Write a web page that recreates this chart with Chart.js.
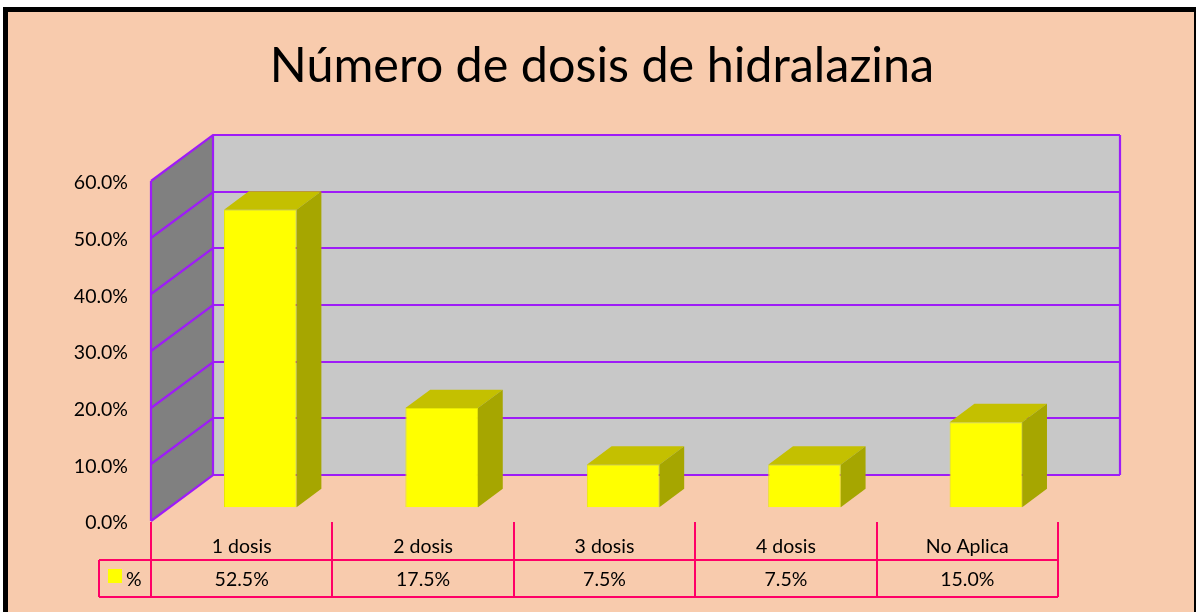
<!DOCTYPE html>
<html>
<head>
<meta charset="utf-8">
<script src="https://cdn.jsdelivr.net/npm/chart.js@4/dist/chart.umd.min.js"></script>
<style>
  html, body { margin: 0; padding: 0; background: #fff; }
  canvas { display: block; }
</style>
</head>
<body>
<canvas id="myChart" width="1196" height="612"></canvas>
<script>
const chartTitle = "Número de dosis de hidralazina";
const categories = ["1 dosis", "2 dosis", "3 dosis", "4 dosis", "No Aplica"];
const seriesName = "%";
const values = [52.5, 17.5, 7.5, 7.5, 15.0];
const yTicks = [0, 10, 20, 30, 40, 50, 60];

const FONT = "Lato, 'Open Sans', sans-serif";
const PEACH = "#F8CBAD";
const GRID = "#9E1CF7";
const TABLE = "#FF0066";
// depth of the 3d box (back wall offset from the front plane)
const DEPTH_X = 62, DEPTH_Y = -46;

const fake3d = {
  id: "fake3d",
  beforeDraw(chart) {
    const c = chart.ctx;
    const x = chart.scales.x, y = chart.scales.y;
    const L = chart.chartArea.left, R = chart.chartArea.right;
    const py = v => Math.round(y.getPixelForValue(v));
    c.save();
    c.fillStyle = "#fff";
    c.fillRect(0, 0, chart.width, chart.height);
    c.fillStyle = PEACH;
    c.fillRect(3, 7, chart.width - 3, chart.height - 7);
    // outer frame
    c.strokeStyle = "#000";
    c.lineWidth = 5;
    c.beginPath();
    c.moveTo(5.5, chart.height);
    c.lineTo(5.5, 9.5);
    c.lineTo(chart.width, 9.5);
    c.stroke();
    c.lineWidth = 2;
    c.beginPath();
    c.moveTo(1195, 9);
    c.lineTo(1195, chart.height);
    c.stroke();

    // title
    c.fillStyle = "#000";
    c.font = "48.5px " + FONT;
    c.textAlign = "center";
    c.textBaseline = "alphabetic";
    c.fillText(chartTitle, 602, 82);

    const top = py(yTicks[yTicks.length - 1]);
    const bot = py(0);
    // back wall
    c.fillStyle = "#C8C8C8";
    c.fillRect(L + DEPTH_X, top + DEPTH_Y, R - L, bot - top);
    // side wall
    c.fillStyle = "#808080";
    c.beginPath();
    c.moveTo(L, top);
    c.lineTo(L + DEPTH_X, top + DEPTH_Y);
    c.lineTo(L + DEPTH_X, bot + DEPTH_Y);
    c.lineTo(L, bot);
    c.closePath();
    c.fill();

    c.strokeStyle = GRID;
    c.lineWidth = 2.2;
    yTicks.forEach(v => {
      const p = py(v);
      c.beginPath();
      c.moveTo(L, p);
      c.lineTo(L + DEPTH_X, p + DEPTH_Y);
      c.lineTo(R + DEPTH_X, p + DEPTH_Y);
      c.stroke();
    });
    c.beginPath();
    c.moveTo(L, top); c.lineTo(L, bot);
    c.moveTo(L + DEPTH_X, top + DEPTH_Y); c.lineTo(L + DEPTH_X, bot + DEPTH_Y);
    c.moveTo(R + DEPTH_X, top + DEPTH_Y); c.lineTo(R + DEPTH_X, bot + DEPTH_Y);
    c.stroke();

    // y tick labels
    c.fillStyle = "#000";
    c.font = "19.5px " + FONT;
    c.textAlign = "right";
    c.textBaseline = "middle";
    yTicks.forEach(v => {
      c.fillText(v.toFixed(1) + "%", 128, y.getPixelForValue(v) + 2);
    });

    // data table
    const cw = (R - L) / categories.length;
    const tTop = bot + 1, rowTop = 560, rowBot = 597, keyLeft = 99;
    c.strokeStyle = TABLE;
    c.lineWidth = 2;
    c.beginPath();
    for (let i = 0; i <= categories.length; i++) {
      const px = Math.round(L + i * cw);
      c.moveTo(px, tTop); c.lineTo(px, rowBot);
    }
    c.moveTo(keyLeft, rowTop); c.lineTo(R, rowTop);
    c.moveTo(keyLeft, rowBot); c.lineTo(R, rowBot);
    c.moveTo(keyLeft, rowTop); c.lineTo(keyLeft, rowBot);
    c.stroke();

    c.fillStyle = "#000";
    c.textAlign = "center";
    c.textBaseline = "alphabetic";
    categories.forEach((lab, i) => {
      const px = x.getPixelForValue(i);
      c.fillText(lab, px, 553);
      c.fillText(values[i].toFixed(1) + "%", px, 586);
    });
    c.fillStyle = "#FFFF00";
    c.fillRect(108, 569, 14, 14);
    c.fillStyle = "#000";
    c.textAlign = "left";
    c.fillText(seriesName, 126, 586);
    c.restore();
  },
  beforeDatasetsDraw(chart) {
    chart.ctx.save();
    chart.ctx.translate(DEPTH_X * 0.3, DEPTH_Y * 0.3);
  },
  afterDatasetsDraw(chart) {
    const c = chart.ctx;
    const bx = DEPTH_X * 0.4, by = DEPTH_Y * 0.4;
    chart.getDatasetMeta(0).data.forEach(bar => {
      const p = bar.getProps(["x", "y", "base", "width"], true);
      const l = p.x - p.width / 2, r = p.x + p.width / 2;
      c.fillStyle = "#C4C000";
      c.beginPath();
      c.moveTo(l, p.y); c.lineTo(l + bx, p.y + by);
      c.lineTo(r + bx, p.y + by); c.lineTo(r, p.y);
      c.closePath(); c.fill();
      c.fillStyle = "#A6A600";
      c.beginPath();
      c.moveTo(r, p.y); c.lineTo(r + bx, p.y + by);
      c.lineTo(r + bx, p.base + by); c.lineTo(r, p.base);
      c.closePath(); c.fill();
    });
    c.restore();
  }
};

const ctx = document.getElementById("myChart").getContext("2d");
const myChart = new Chart(ctx, {
  type: "bar",
  data: {
    labels: categories,
    datasets: [
      {
        label: seriesName,
        data: values,
        backgroundColor: "#FFFF00",
        borderColor: "#E8E800",
        borderWidth: 1,
        barPercentage: 0.4,
        categoryPercentage: 1,
        clip: false,
      },
    ],
  },
  options: {
    responsive: false,
    animation: false,
    devicePixelRatio: 1,
    layout: { padding: { left: 151, right: 138, top: 181, bottom: 91 } },
    scales: {
      x: { display: false, offset: true },
      y: { display: false, min: 0, max: 60 },
    },
    plugins: {
      legend: { display: false },
      tooltip: { enabled: false },
    },
  },
  plugins: [fake3d],
});
</script>
</body>
</html>
